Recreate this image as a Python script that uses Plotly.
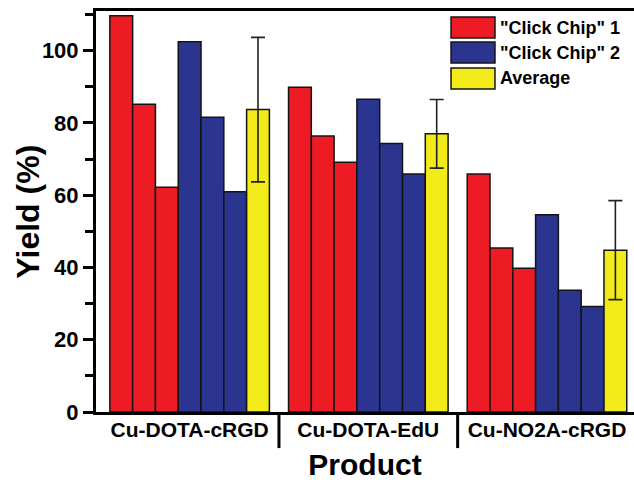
import plotly.graph_objects as go

# Radiolabelling yields per product, three runs on each chip
products = ["Cu-DOTA-cRGD", "Cu-DOTA-EdU", "Cu-NO2A-cRGD"]
chip1_run1 = [109.7, 89.9, 65.9]
chip1_run2 = [85.2, 76.4, 45.4]
chip1_run3 = [62.2, 69.1, 39.8]
chip2_run1 = [102.5, 86.6, 54.6]
chip2_run2 = [81.6, 74.3, 33.7]
chip2_run3 = [61.0, 65.9, 29.2]
average = [83.7, 77.0, 44.8]
average_sd = [20.0, 9.5, 13.7]

legend_labels = ['"Click Chip" 1', '"Click Chip" 2', "Average"]
y_title = "Yield (%)"

RED = "#ED1C24"
BLUE = "#2B3590"
YELLOW = "#F3EA1A"
EDGE = "#141414"
FONT = "Arial"

fig = go.Figure()

series = [
    (chip1_run1, RED), (chip1_run2, RED), (chip1_run3, RED),
    (chip2_run1, BLUE), (chip2_run2, BLUE), (chip2_run3, BLUE),
]
for vals, col in series:
    fig.add_trace(go.Bar(
        x=products, y=vals, marker=dict(color=col, line=dict(color=EDGE, width=1.5)),
        showlegend=False,
    ))

fig.add_trace(go.Bar(
    x=products, y=average,
    marker=dict(color=YELLOW, line=dict(color=EDGE, width=1.5)),
    error_y=dict(type="data", array=average_sd, color="#222222", thickness=1.6, width=7),
    showlegend=False,
))

# Divider ticks between product groups
for b in (0.5, 1.5):
    fig.add_shape(type="line", xref="x", yref="paper", x0=b, x1=b, y0=0, y1=-0.09,
                  line=dict(color="black", width=3))

# Legend drawn as swatches with labels
swatch_y = [(0.985, 0.9327), (0.9227, 0.8703), (0.8579, 0.8055)]
for (y1, y0), col, label in zip(swatch_y, [RED, BLUE, YELLOW], legend_labels):
    fig.add_shape(type="rect", xref="paper", yref="paper", x0=0.6599, x1=0.7416,
                  y0=y0, y1=y1, fillcolor=col, line=dict(color=EDGE, width=1.5))
    fig.add_annotation(xref="paper", yref="paper", x=0.7475, y=(y0 + y1) / 2,
                       text=label, showarrow=False, xanchor="left", yanchor="middle",
                       font=dict(family=FONT, size=18, color="black", weight="bold"))

# Vertical axis title
fig.add_annotation(xref="paper", yref="paper", x=-0.128, y=0.5, text=y_title,
                   textangle=-90, showarrow=False, xanchor="center", yanchor="middle",
                   font=dict(family=FONT, size=32, color="black", weight="bold"))

fig.update_layout(
    width=634, height=482,
    margin=dict(l=96, r=0, t=11, b=70),
    paper_bgcolor="white", plot_bgcolor="white",
    barmode="group", bargap=0.107, bargroupgap=0,
    font=dict(family=FONT, color="black"),
)

fig.update_xaxes(
    range=[-0.524, 2.487], showgrid=False, ticks="",
    showline=True, linecolor="black", linewidth=3, mirror=True,
    tickfont=dict(family=FONT, size=21, weight="bold"), ticklabelstandoff=-3,
    title=dict(text="Product", font=dict(family=FONT, size=30, weight="bold"), standoff=14),
)
fig.update_yaxes(
    range=[0, 111], showgrid=False, zeroline=False,
    showline=True, linecolor="black", linewidth=3, mirror=False,
    ticks="outside", ticklen=10, tickwidth=2.5, tickcolor="black",
    tick0=0, dtick=20,
    minor=dict(ticks="outside", ticklen=8, tickwidth=2.5, tickcolor="black", dtick=10, showgrid=False),
    tickfont=dict(family=FONT, size=22, weight="bold"),
)

fig.write_html("out.html")
